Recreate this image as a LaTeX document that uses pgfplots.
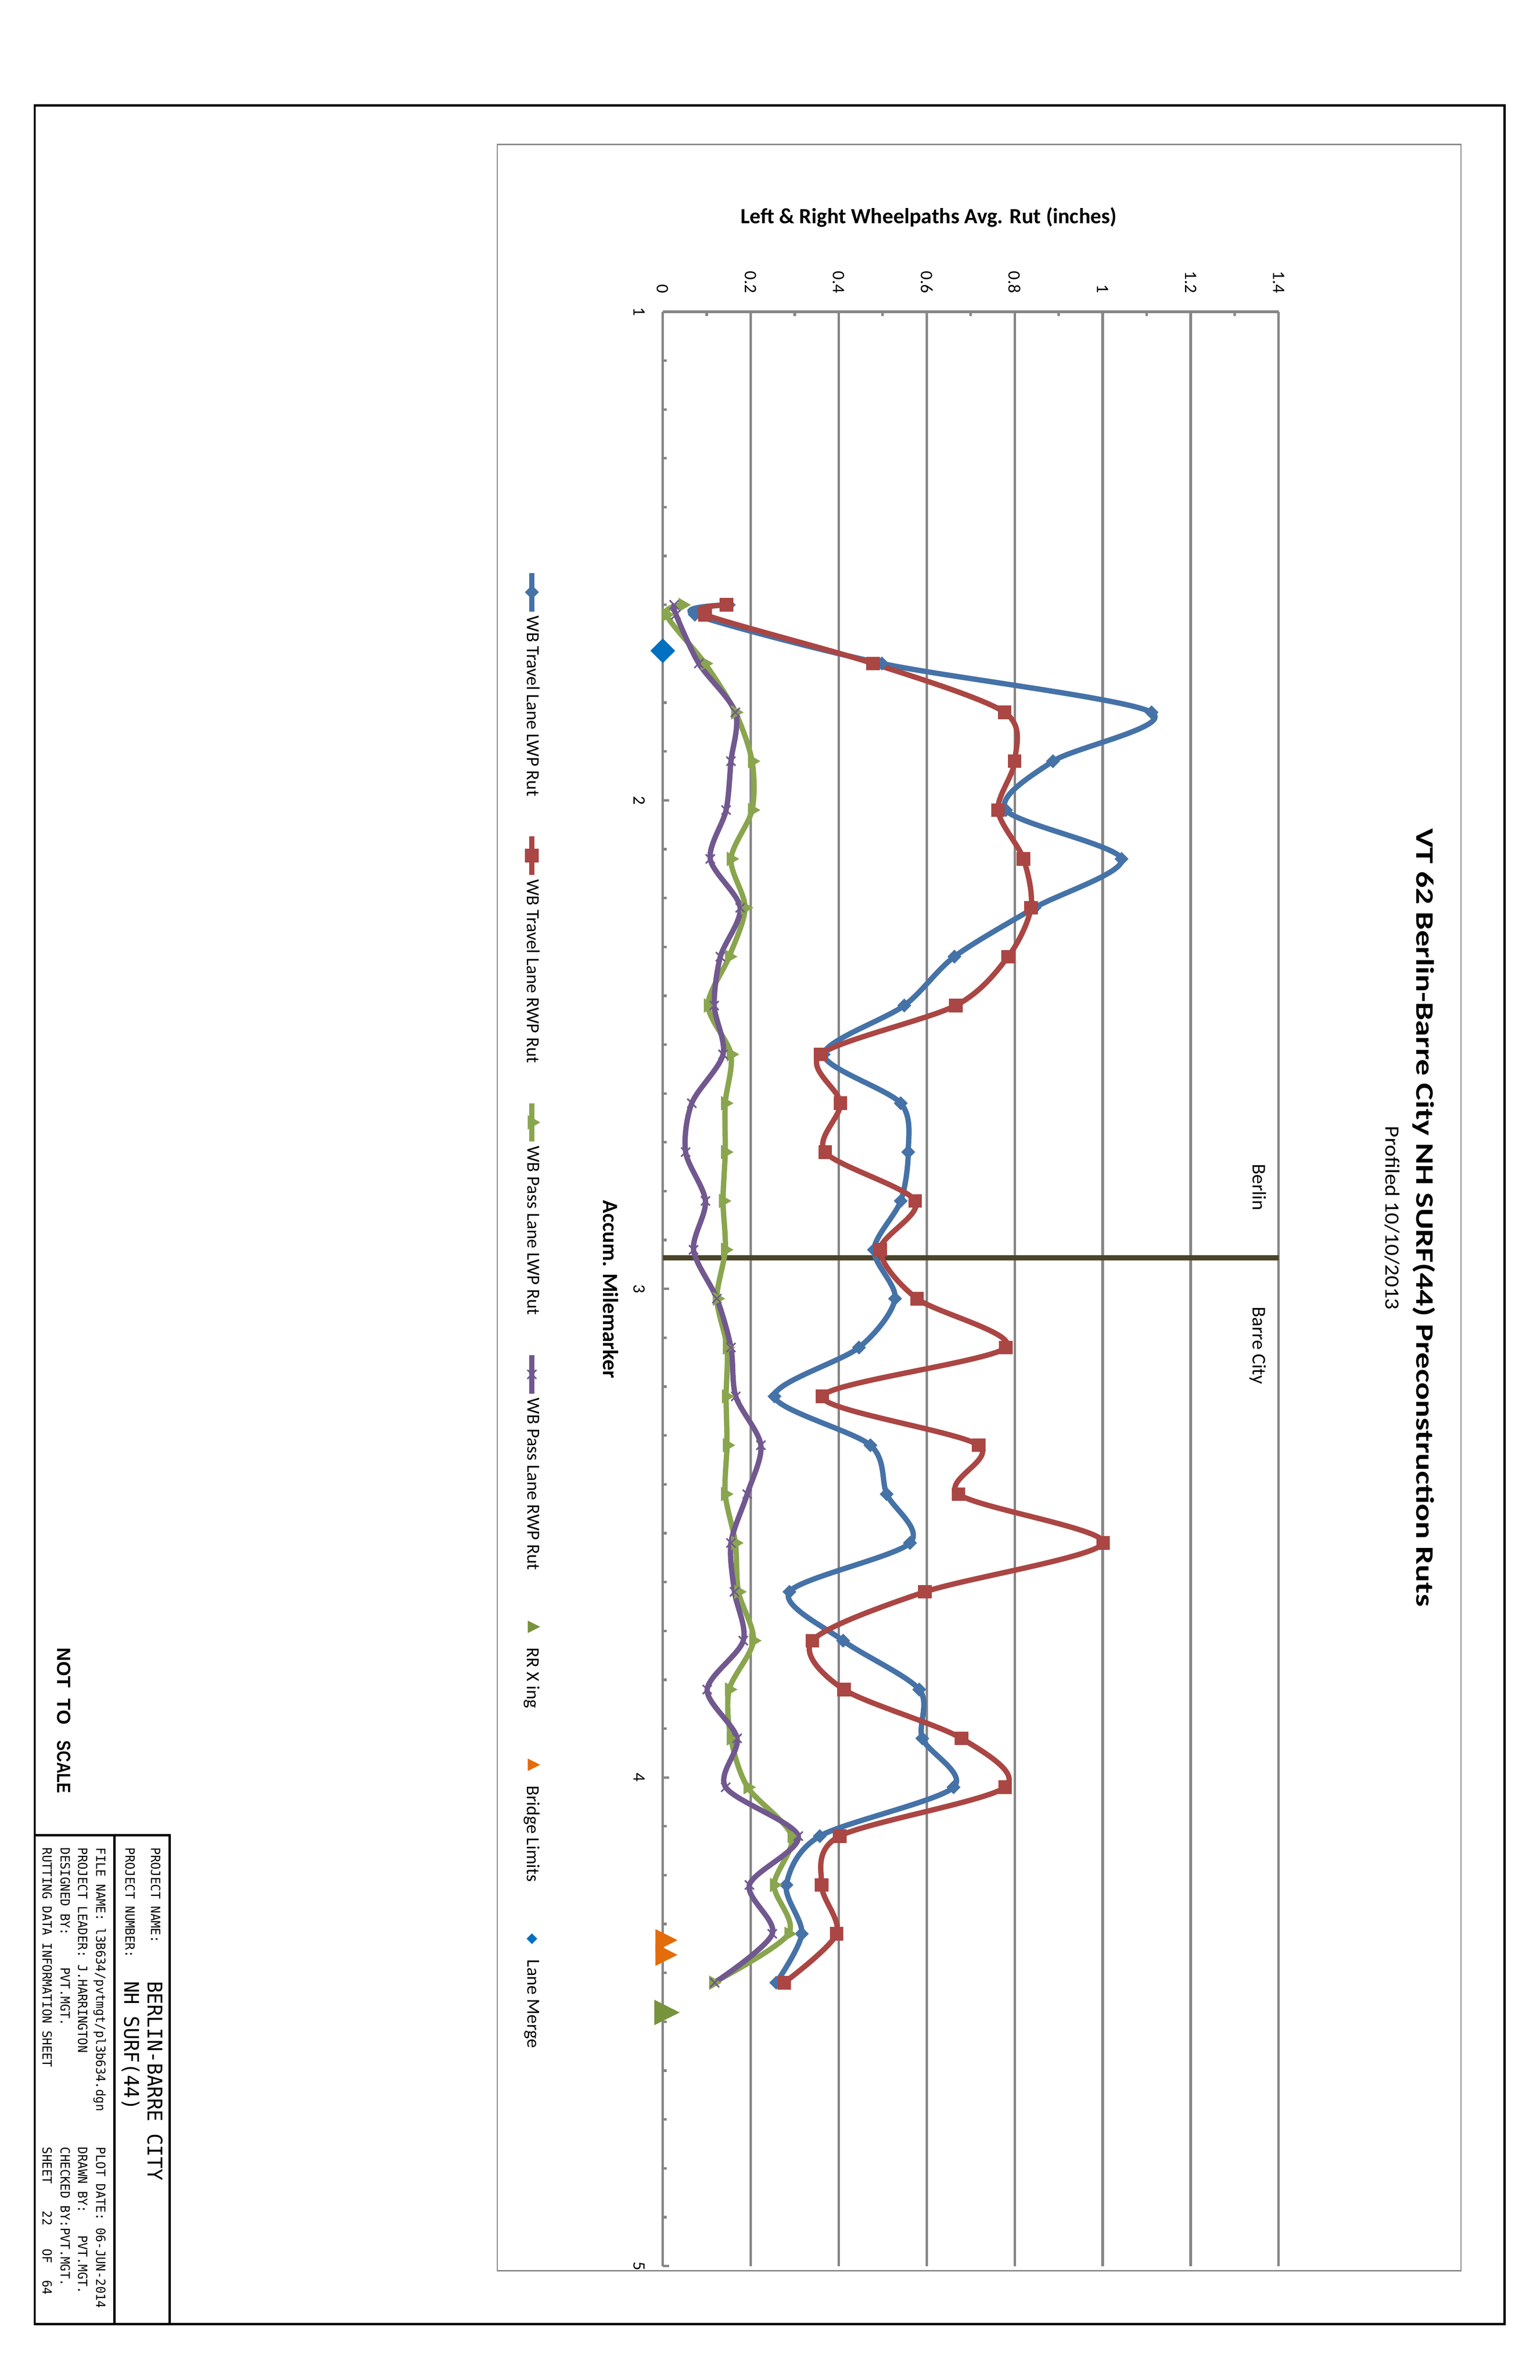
\documentclass[border=0pt]{standalone}
\usepackage{fontspec}
\setmainfont{Carlito}
\newfontfamily\titlefont[FakeStretch=1.3]{Carlito}
\newfontfamily\subfont[FakeStretch=1.1]{Carlito}
\newfontfamily\cadfont[FakeStretch=0.96]{DejaVu Sans Mono}
\newfontfamily\nfont{Liberation Sans}
\usepackage{graphicx}
\usepackage{pgfplots}
\pgfplotsset{compat=1.18}
\definecolor{cblue}{HTML}{4572A7}
\definecolor{cred}{HTML}{AA4643}
\definecolor{cgreen}{HTML}{89A54E}
\definecolor{cpurple}{HTML}{71588F}
\definecolor{rrgreen}{HTML}{77933C}
\definecolor{bridge}{HTML}{E46C0A}
\definecolor{merge}{HTML}{0070C0}
\definecolor{divider}{HTML}{4A452A}
\definecolor{gridgray}{HTML}{868686}
\pgfplotsset{
  linemark legend/.style={legend image code/.code={\draw[mark repeat=2,mark phase=2,##1] plot coordinates {(0in,0in) (0.1375in,0in) (0.275in,0in)};}},
  markonly legend/.style={legend image code/.code={\path[mark repeat=2,mark phase=2,##1] plot coordinates {(0in,0in) (0.1375in,0in) (0.275in,0in)};}},
}

\pgfplotstableread{
x y
1.60 0.150
1.62 0.073
1.72 0.498
1.82 1.111
1.92 0.887
2.02 0.780
2.12 1.043
2.22 0.845
2.32 0.663
2.42 0.549
2.52 0.366
2.62 0.541
2.72 0.558
2.82 0.541
2.92 0.480
3.02 0.528
3.12 0.446
3.22 0.254
3.32 0.472
3.42 0.509
3.52 0.562
3.62 0.288
3.72 0.410
3.82 0.583
3.92 0.590
4.02 0.661
4.12 0.357
4.22 0.281
4.32 0.316
4.42 0.258
}\travellwp

\pgfplotstableread{
x y
1.60 0.145
1.62 0.096
1.72 0.478
1.82 0.777
1.92 0.800
2.02 0.762
2.12 0.820
2.22 0.837
2.32 0.785
2.42 0.666
2.52 0.359
2.62 0.404
2.72 0.369
2.82 0.574
2.92 0.494
3.02 0.578
3.12 0.780
3.22 0.363
3.32 0.718
3.42 0.672
3.52 1.001
3.62 0.596
3.72 0.340
3.82 0.412
3.92 0.679
4.02 0.778
4.12 0.402
4.22 0.361
4.32 0.395
4.42 0.276
}\travelrwp

\pgfplotstableread{
x y
1.60 0.045
1.62 0.008
1.72 0.096
1.82 0.165
1.92 0.203
2.02 0.203
2.12 0.155
2.22 0.187
2.32 0.151
2.42 0.103
2.52 0.155
2.62 0.142
2.72 0.142
2.82 0.137
2.92 0.142
3.02 0.123
3.12 0.146
3.22 0.144
3.32 0.146
3.42 0.142
3.52 0.165
3.62 0.172
3.72 0.206
3.82 0.151
3.92 0.155
4.02 0.193
4.12 0.293
4.22 0.253
4.32 0.286
4.42 0.115
}\passlwp

\pgfplotstableread{
x y
1.60 0.026
1.62 0.030
1.72 0.082
1.82 0.165
1.92 0.155
2.02 0.144
2.12 0.108
2.22 0.176
2.32 0.131
2.42 0.117
2.52 0.137
2.62 0.066
2.72 0.052
2.82 0.097
2.92 0.070
3.02 0.123
3.12 0.155
3.22 0.166
3.32 0.223
3.42 0.192
3.52 0.155
3.62 0.163
3.72 0.183
3.82 0.101
3.92 0.169
4.02 0.143
4.12 0.308
4.22 0.197
4.32 0.249
4.42 0.118
}\passrwp

\begin{document}
\rotatebox{-90}{%
\begin{tikzpicture}
\path[use as bounding box] (0,0) rectangle (17in,11in);
\fill[white] (0,0) rectangle (17in,11in);
% outer sheet border
\draw[black, line width=1.2pt] (0.752in,0.248in) rectangle (16.6in,10.7475in);
% chart area frame
\draw[gridgray, line width=0.6pt] (1.0325in,3.5525in) rectangle (16.22in,10.4375in);

\begin{axis}[
  at={(2.2265in,4.735in)}, anchor=south west,
  scale only axis, width=13.96in, height=4.40in,
  xmin=1, xmax=5, ymin=0, ymax=1.4,
  xtick={1,2,3,4,5}, ytick={0,0.2,0.4,0.6,0.8,1,1.2,1.4},
  minor x tick num=9, minor y tick num=1,
  axis lines*=left,
  axis line style={draw=gridgray, line width=1.3pt, -},
  ymajorgrids, major grid style={draw=gridgray, line width=1.3pt},
  tick style={draw=gridgray, line width=1.3pt},
  major tick length=0.045in, minor tick length=0.03in,
  tick align=inside,
  clip=false,
  /pgf/number format/assume math mode=true,
  tick label style={font=\fontsize{9}{10}\selectfont},
  xticklabel style={anchor=north, inner sep=0pt, yshift=-0.125in},
  yticklabel style={anchor=east, inner sep=0pt, xshift=-0.13in},
  legend style={at={(0.1321,-0.2125)}, anchor=west, draw=none, fill=none,
    inner sep=0pt, legend columns=-1,
    font=\fontsize{9.5}{11}\selectfont,
    nodes={inner sep=0.5pt, anchor=west},
    /tikz/every odd column/.append style={column sep=0.005in},
    /tikz/every even column/.append style={column sep=0.26in}},
  linemark legend,
]
% Berlin / Barre City divider
\addplot[forget plot, color=divider, line width=2.7pt] coordinates {(2.936,0) (2.936,1.4)};

\addplot[color=cblue, line width=2.75pt, smooth, tension=0.5,
  mark=square*, mark size=2.35pt,
  mark options={solid, fill=cblue, draw=cblue, line width=0.4pt, rotate=45}]
  table[x=x, y=y] {\travellwp};
\addlegendentry{WB Travel Lane LWP Rut}

\addplot[color=cred, line width=2.75pt, smooth, tension=0.5,
  mark=square*, mark size=3.3pt,
  mark options={solid, fill=cred, draw=cred, line width=0.4pt}]
  table[x=x, y=y] {\travelrwp};
\addlegendentry{WB Travel Lane RWP Rut}

\addplot[color=cgreen, line width=2.75pt, smooth, tension=0.5,
  mark=triangle*, mark size=3.9pt,
  mark options={solid, fill=cgreen, draw=cgreen, line width=0.4pt}]
  table[x=x, y=y] {\passlwp};
\addlegendentry{WB Pass Lane LWP Rut}

\addplot[color=cpurple, line width=2.75pt, smooth, tension=0.5,
  mark=x, mark size=3.3pt,
  mark options={solid, draw=cpurple, line width=0.8pt}]
  table[x=x, y=y] {\passrwp};
\addlegendentry{WB Pass Lane RWP Rut}

\addplot[draw=none, mark=triangle*, mark size=7.4pt,
  mark options={fill=rrgreen, draw=rrgreen, line width=0.2pt, yscale=1.15},
  markonly legend, legend image post style={mark size=3.5pt}]
  coordinates {(4.481,0)};
\addlegendentry{RR X ing}

\addplot[draw=none, mark=triangle*, mark size=6.4pt,
  mark options={fill=bridge, draw=bridge, line width=0.2pt, yscale=1.15},
  markonly legend, legend image post style={mark size=3.5pt}]
  coordinates {(4.333,0) (4.363,0)};
\addlegendentry{Bridge Limits}

\addplot[draw=none, mark=square*, mark size=4.4pt,
  mark options={fill=merge, draw=merge, line width=0.2pt, rotate=45},
  markonly legend, legend image post style={mark size=1.85pt}]
  coordinates {(1.694,0)};
\addlegendentry{Lane Merge}
\end{axis}

% titles and labels
\node[anchor=base, inner sep=0pt, font=\titlefont\bfseries\fontsize{13}{15}\selectfont] at (8.697in,10.12in) {VT 62 Berlin-Barre City NH SURF(44) Preconstruction Ruts};
\node[anchor=base, inner sep=0pt, font=\subfont\fontsize{10.5}{12}\selectfont] at (8.70in,9.8975in) {Profiled 10/10/2013};
\node[anchor=base, inner sep=0pt, font=\fontsize{10}{12}\selectfont] at (8.48in,8.95in) {Berlin};
\node[anchor=base, inner sep=0pt, font=\fontsize{10}{12}\selectfont] at (9.61in,8.95in) {Barre City};
\node[anchor=base, inner sep=0pt, rotate=90, font=\bfseries\fontsize{11.2}{13}\selectfont] at (1.595in,6.635in) {Left \& Right Wheelpaths Avg. Rut (inches)};
\node[anchor=base, inner sep=0pt, font=\bfseries\fontsize{11.2}{13}\selectfont] at (9.21in,4.31in) {Accum. Milemarker};

% NOT TO SCALE
\node[anchor=base west, inner sep=0pt, font=\nfont\bfseries\fontsize{9.8}{11}\selectfont] at (11.767in,0.41in) {NOT};
\node[anchor=base west, inner sep=0pt, font=\nfont\bfseries\fontsize{9.8}{11}\selectfont] at (12.13in,0.41in) {TO};
\node[anchor=base west, inner sep=0pt, font=\nfont\bfseries\fontsize{9.8}{11}\selectfont, xscale=0.82, transform shape] at (12.43in,0.41in) {SCALE};

% title block
\draw[black, line width=1.2pt] (13.11in,0.248in) rectangle (16.6in,1.2125in);
\draw[black, line width=1.2pt] (13.11in,0.8175in) -- (16.6in,0.8175in);
\begin{scope}[every node/.style={anchor=base west, inner sep=0pt, font=\cadfont\fontsize{6.54}{7}\selectfont}]
\node at (13.195in,1.079in) {PROJECT NAME:};
\node at (13.195in,0.896in) {PROJECT NUMBER:};
\node at (13.195in,0.6875in) {FILE NAME: l3B634/pvtmgt/pl3b634.dgn};
\node at (13.195in,0.558in) {PROJECT LEADER: J.HARRINGTON};
\node at (13.195in,0.433in) {DESIGNED BY:};
\node at (14.05in,0.433in) {PVT.MGT.};
\node at (13.195in,0.304in) {RUTTING DATA INFORMATION SHEET};
\node at (15.334in,0.6875in) {PLOT DATE: 06-JUN-2014};
\node at (15.334in,0.558in) {DRAWN BY:};
\node at (15.964in,0.558in) {PVT.MGT.};
\node at (15.334in,0.433in) {CHECKED BY:PVT.MGT.};
\node at (15.334in,0.304in) {SHEET};
\node at (15.79in,0.304in) {22};
\node at (16.06in,0.304in) {OF};
\node at (16.285in,0.304in) {64};
\end{scope}
\node[anchor=base west, inner sep=0pt, font=\cadfont\fontsize{10.47}{12}\selectfont] at (14.148in,1.054in) {BERLIN-BARRE CITY};
\node[anchor=base west, inner sep=0pt, font=\cadfont\fontsize{10.47}{12}\selectfont] at (14.148in,0.8875in) {NH SURF(44)};
\end{tikzpicture}}
\end{document}
